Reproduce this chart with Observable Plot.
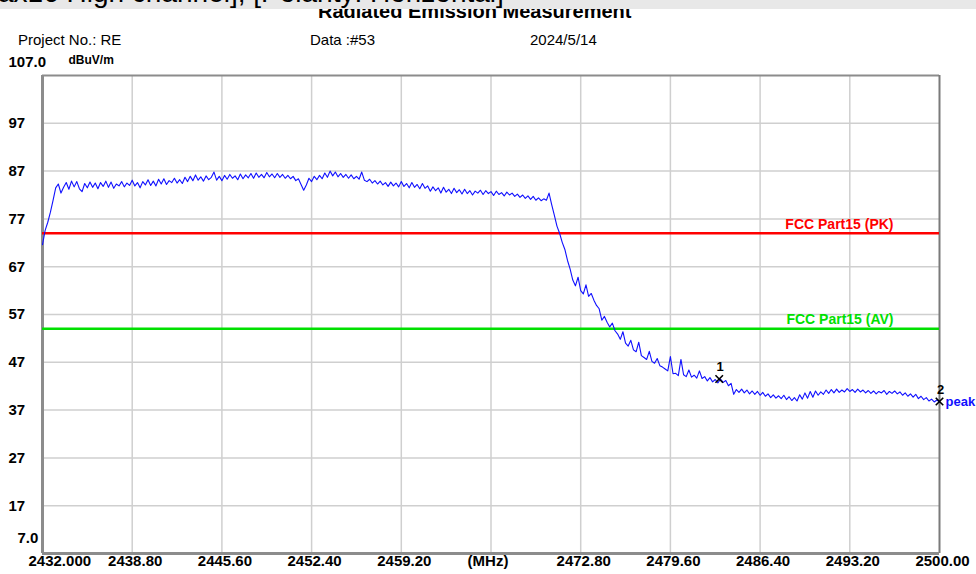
<!DOCTYPE html>
<html>
<head>
<meta charset="utf-8">
<script src="https://cdn.jsdelivr.net/npm/d3@7"></script>
<script src="https://cdn.jsdelivr.net/npm/@observablehq/plot@0.6"></script>
<style>
  html, body { margin: 0; padding: 0; background: #fff; }
  body { width: 976px; height: 574px; overflow: hidden; font-family: "Liberation Sans", Arial, sans-serif; }
  #hdr { position: relative; width: 976px; height: 48px; overflow: hidden; }
  #band { position: absolute; left: 0; top: 0; width: 976px; height: 9px; background: #e8e8e8; overflow: hidden; }
  #band span { position: absolute; left: -2px; top: -23px; font-size: 28px; line-height: 32px; color: #000; white-space: nowrap; }
  #title { position: absolute; left: 318px; top: 0px; font-weight: bold; font-size: 20px; line-height: 22px; white-space: nowrap; color: #000; }
  .info { position: absolute; top: 31px; font-size: 15px; line-height: 18px; color: #000; white-space: nowrap; }
</style>
</head>
<body>
<div id="hdr">
  <div id="title"></div>
  <div id="band"><span id="bandText"></span></div>
  <div class="info" id="proj" style="left:18px"></div>
  <div class="info" id="dataNo" style="left:310px"></div>
  <div class="info" id="date" style="left:530px"></div>
</div>
<div id="chart"></div>
<script>
// ---- texts ----
const bandText = "ax16 High channel], [Polarity: Horizontal]";
const titleText = "Radiated Emission Measurement";
const projectText = "Project No.: RE";
const dataText = "Data :#53";
const dateText = "2024/5/14";
const unitText = "dBuV/m";

// ---- axes ----
const yTicks = [97, 87, 77, 67, 57, 47, 37, 27, 17];
const yTopValue = 107, yTopLabel = "107.0";
const yBottomValue = 7, yBottomLabel = "7.0";
const xTickValues = [2432, 2438.8, 2445.6, 2452.4, 2459.2, 2466, 2472.8, 2479.6, 2486.4, 2493.2, 2500];
const xTickLabels = ["2432.000", "2438.80", "2445.60", "2452.40", "2459.20", "(MHz)", "2472.80", "2479.60", "2486.40", "2493.20", "2500.00"];

// ---- sweep (MHz grid, 0.2 MHz step) and measured level (dBuV/m) ----
const freqStart = 2432, freqStep = 0.2;
const levels = [
  71.6, 74.6, 76.3, 78.4, 80.9,
  83.5, 84.3, 82.4, 83.6, 84.6,
  83.2, 84.9, 83.7, 84.8, 83.3,
  82.7, 84.4, 83.5, 84.7, 83.6,
  84.5, 83.3, 84.6, 83.8, 84.9,
  83.6, 84.7, 83.4, 84.3, 83.9,
  84.8, 83.7, 84.5, 84.0, 85.1,
  83.9, 84.6, 83.5, 84.8, 84.1,
  85.2, 84.0, 84.9, 83.9, 85.3,
  84.3, 85.4, 84.2, 85.0, 84.6,
  85.5, 84.5, 85.2, 84.4, 85.7,
  84.8, 85.9, 85.0, 86.2, 85.1,
  85.8, 84.9, 86.0, 85.2, 85.7,
  86.8, 85.1, 85.9, 85.0, 86.1,
  85.3, 86.3, 85.5, 86.0, 85.2,
  86.4, 85.4, 86.2, 85.6, 86.5,
  85.5, 86.6, 85.7, 86.3, 85.6,
  86.7, 85.8, 86.4, 85.6, 86.5,
  85.7, 86.3, 85.5, 86.1, 85.4,
  85.9, 85.0, 85.4, 84.2, 83.0,
  84.1, 85.5, 84.8, 85.9, 85.2,
  86.1, 85.4, 86.6, 85.7, 87.0,
  86.0, 86.8, 85.8, 86.5, 85.7,
  86.3, 85.5, 86.2, 85.4, 85.9,
  85.3, 86.8, 85.1, 84.8, 85.3,
  84.5, 85.0, 84.3, 84.9, 84.1,
  84.6, 83.8, 84.7, 83.9, 84.5,
  83.7, 84.8, 83.8, 84.4, 83.5,
  84.6, 83.6, 84.2, 83.3, 84.4,
  83.4, 83.9, 82.8, 83.7, 82.9,
  83.5, 82.4, 83.6, 82.6, 83.2,
  82.3, 83.4, 82.5, 83.1, 82.2,
  83.2, 82.3, 82.9, 82.0, 82.8,
  82.4, 83.0, 82.1, 82.9, 82.3,
  82.7, 81.9, 82.8, 82.1, 82.5,
  81.8, 82.6, 82.0, 82.4, 81.7,
  82.2, 81.5, 82.0, 81.3, 81.8,
  81.1, 81.7, 80.9, 81.4, 80.8,
  81.2, 80.9, 82.4, 80.0, 77.8,
  75.5, 74.0, 72.1, 70.6, 68.3,
  66.5, 64.2, 63.0, 64.8, 62.0,
  61.3, 63.2, 60.8, 61.4, 60.0,
  58.9, 58.2, 55.8, 56.6, 55.4,
  54.4, 55.2, 53.6, 52.9, 51.8,
  53.4, 51.0, 50.4, 51.6, 49.6,
  49.2, 51.2, 48.4, 48.0, 47.6,
  49.3, 47.2, 46.8, 47.8, 46.3,
  46.0, 45.6, 45.2, 48.2, 44.6,
  44.7, 44.2, 47.6, 44.4, 44.0,
  45.4, 43.9, 44.3, 43.7, 45.2,
  43.6, 44.0, 43.1, 43.8, 42.9,
  43.4, 42.7, 43.5, 42.8, 43.2,
  42.1, 42.6, 40.3, 41.3, 40.7,
  41.4, 40.6, 41.2, 40.4, 41.0,
  40.3, 40.9, 40.1, 40.7, 39.9,
  40.4, 39.6, 40.2, 39.5, 40.0,
  39.4, 40.1, 39.2, 39.8, 39.0,
  39.6, 38.9, 40.2, 39.3, 40.6,
  39.5, 40.9, 39.7, 41.0, 40.1,
  40.8, 40.3, 41.2, 40.5, 41.3,
  40.6, 41.4, 40.7, 41.2, 40.8,
  41.5, 40.9, 41.3, 40.7, 41.4,
  40.8, 41.2, 40.6, 41.1, 40.5,
  41.0, 40.4, 40.9, 40.6, 41.1,
  40.3, 40.9, 40.5, 41.0, 40.4,
  40.8, 40.1, 40.6, 39.9, 40.4,
  39.7, 40.3, 39.4, 39.9, 39.2,
  39.6, 38.9, 39.3, 38.7, 39.1,
  38.7
];

// ---- limit lines ----
const limitNames = ["FCC Part15 (PK)", "FCC Part15 (AV)"];
const limitLevels = [74, 54];
const limitColors = ["#ff0000", "#00e000"];

// ---- markers ----
const markerIds = ["1", "2"];
const markerFreqs = [2483.3, 2500];
const markerLevels = [43.5, 38.8];
const peakLabel = "peak";

// ---- build ----
document.getElementById("bandText").textContent = bandText;
document.getElementById("title").textContent = titleText;
document.getElementById("proj").textContent = projectText;
document.getElementById("dataNo").textContent = dataText;
document.getElementById("date").textContent = dateText;

const trace = levels.map((v, i) => ({freq: freqStart + i * freqStep, level: v}));
const xTicks = xTickValues.map((v, i) => ({v, label: xTickLabels[i], i}));
const markers = markerIds.map((id, i) => ({id, freq: markerFreqs[i], level: markerLevels[i]}));
const xGrid = xTickValues.slice(1, -1);
const font = "'Liberation Sans', Arial, sans-serif";
const unitIdx = xTickLabels.indexOf("(MHz)");

const limitMarks = limitLevels.flatMap((lv, i) => [
  Plot.ruleY([lv], {stroke: limitColors[i], strokeWidth: 2.5}),
  Plot.text([lv], {y: d => d, text: () => limitNames[i], frameAnchor: "right", textAnchor: "end",
    dx: -46, dy: -9, fill: limitColors[i], fontWeight: "bold", fontSize: 14})
]);

const xLabelStyle = {x: "v", text: "label", frameAnchor: "bottom", dy: 12, fontWeight: "bold", fontSize: 15, fill: "#000"};

const chart = Plot.plot({
  width: 976,
  height: 526,
  marginTop: 27,
  marginBottom: 21,
  marginLeft: 42,
  marginRight: 37,
  x: {domain: [2432, 2500], axis: null},
  y: {domain: [7, 107], axis: null},
  style: {fontFamily: font, background: "#fff", overflow: "visible", color: "#000"},
  marks: [
    Plot.ruleX(xGrid, {stroke: "#cfcfcf", strokeWidth: 1.5}),
    Plot.ruleY(yTicks, {stroke: "#cfcfcf", strokeWidth: 1.5}),
    Plot.ruleY([yTopValue], {stroke: "#8c8c8c", strokeWidth: 2}),
    Plot.ruleX([2500], {stroke: "#7a7a7a", strokeWidth: 2}),
    Plot.ruleX([2432], {stroke: "#8c8c8c", strokeWidth: 3}),
    Plot.ruleY([yBottomValue], {stroke: "#8c8c8c", strokeWidth: 3}),
    ...limitMarks,
    Plot.line(trace, {x: "freq", y: "level", stroke: "#1010ff", strokeWidth: 1.1}),
    Plot.dot(markers, {x: "freq", y: "level", symbol: "times", r: 3.5, stroke: "#000", strokeWidth: 1.6}),
    Plot.text(markers, {x: "freq", y: "level", text: "id", dy: -12, dx: 1, fill: "#000", fontWeight: "bold", fontSize: 13}),
    Plot.text(markers.slice(-1), {x: "freq", y: "level", text: () => peakLabel, dx: 6, dy: 0, textAnchor: "start",
      fill: "#1010ff", fontWeight: "bold", fontSize: 13}),
    // y tick labels
    Plot.text(yTicks, {y: d => d, text: d => String(d), frameAnchor: "left", textAnchor: "start", dx: -34,
      fontWeight: "bold", fontSize: 15, fill: "#000"}),
    Plot.text([yTopValue], {y: d => d, text: () => yTopLabel, frameAnchor: "left", textAnchor: "start", dx: -34, dy: -13,
      fontWeight: "bold", fontSize: 15, fill: "#000"}),
    Plot.text([yTopValue], {y: d => d, text: () => unitText, frameAnchor: "left", textAnchor: "start", dx: 26, dy: -15,
      fontWeight: "bold", fontSize: 12, fill: "#000"}),
    Plot.text([yBottomValue], {y: d => d, text: () => yBottomLabel, frameAnchor: "left", textAnchor: "start", dx: -25, dy: -15,
      fontWeight: "bold", fontSize: 15, fill: "#000"}),
    // x tick labels
    Plot.text(xTicks.filter(d => d.i === 0), {...xLabelStyle, dx: -14, textAnchor: "start"}),
    Plot.text(xTicks.filter(d => d.i > 0 && d.i !== unitIdx), {...xLabelStyle, dx: 3}),
    Plot.text(xTicks.filter(d => d.i === unitIdx), {...xLabelStyle, dx: -3})
  ]
});
document.getElementById("chart").appendChild(chart);
</script>
</body>
</html>
